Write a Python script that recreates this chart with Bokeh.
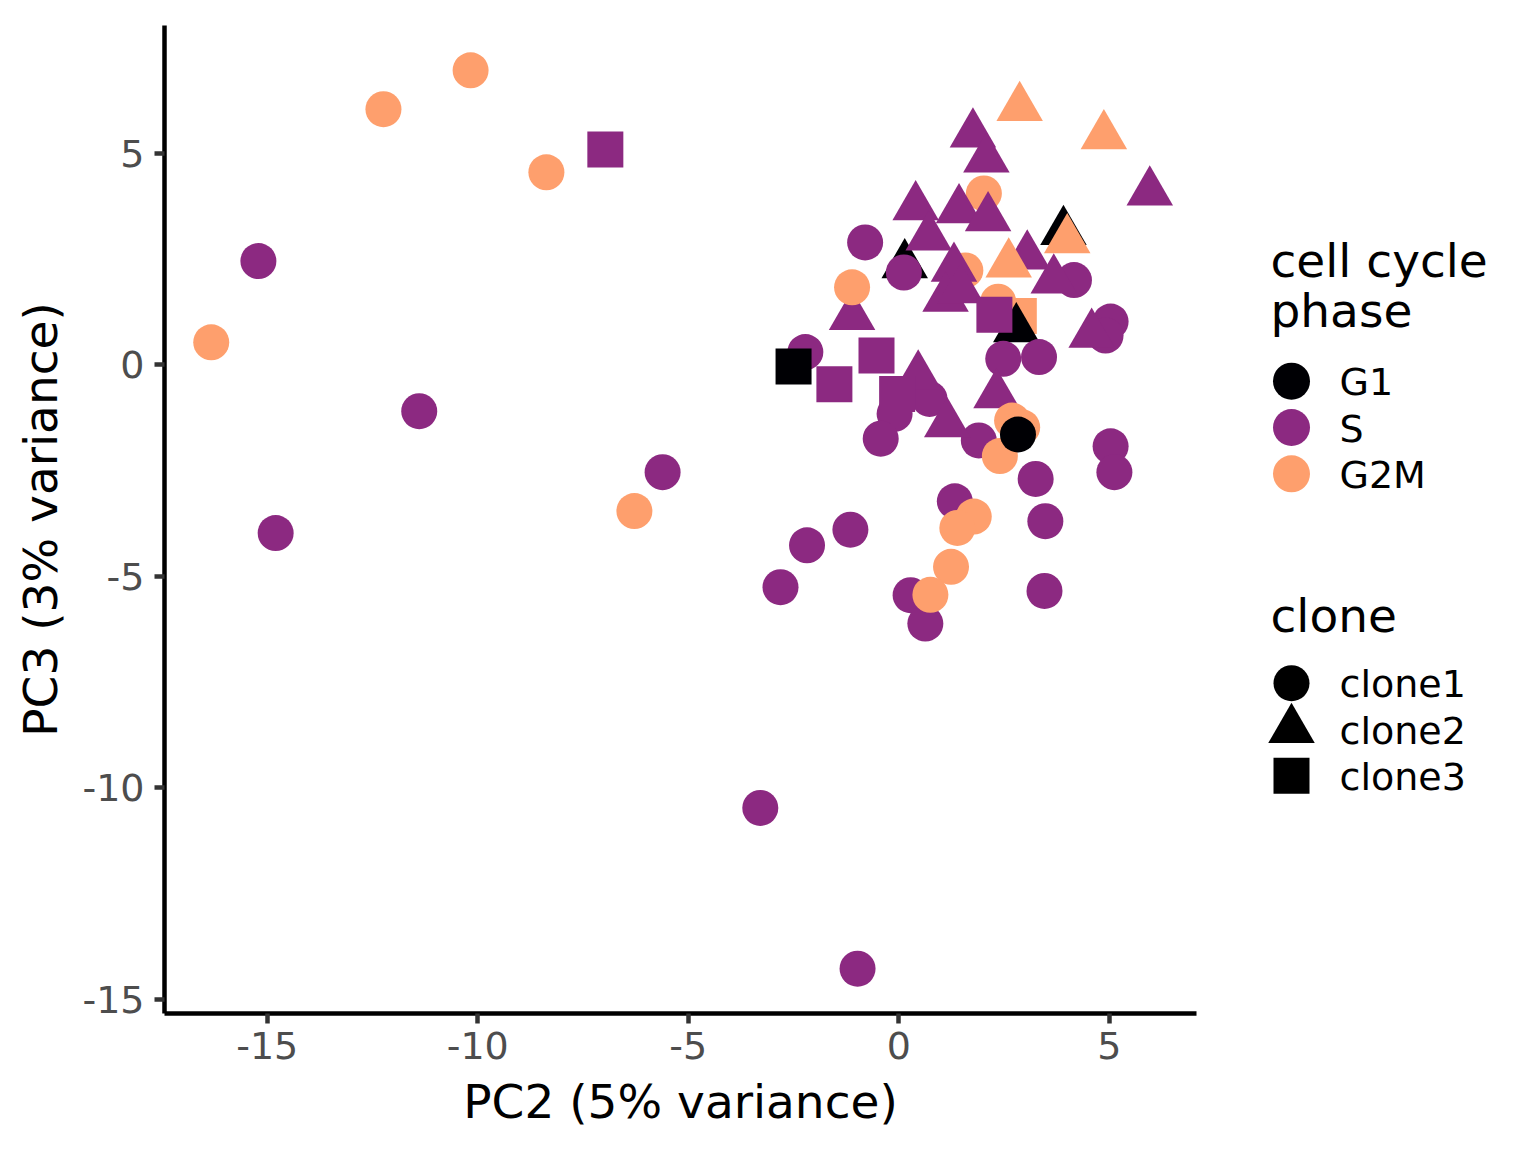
from bokeh.plotting import figure
from bokeh.layouts import row
from bokeh.models import Range1d, ColumnDataSource, FixedTicker
from bokeh.core.properties import value
from bokeh.embed import file_html
from bokeh.resources import INLINE

# ---- data (draw order) ----
pc2 = [2.85, 2.02, 2.36, 1.58,
       3.91, 0.14, 2.79,
       -15.21, -11.39, -14.80, -5.61, -3.29, -0.98, -0.80, 0.12, 4.16, 5.03, 4.91, -2.22,
       2.48, 3.33, 0.73, -0.10, -0.43, 1.90, 3.25, 5.03, 5.12, 1.33, -1.15, -2.18, 3.48,
       -2.81, 0.28, 0.63, 3.46,
       1.76, 2.08, 5.96, 0.40, 1.43, 2.12, 0.71, 3.05, 1.31, 1.11, 1.47, 3.68, 4.58, -1.11,
       0.46, 1.15, 2.32,
       -6.97, -0.53, -1.53, -0.04, 2.27,
       -10.17, -12.24, -8.37, -16.33, -6.28, -1.11, 2.69, 2.93, 2.40, 1.78, 1.39, 1.24, 0.75,
       2.87, 4.87, 4.00, 2.61,
       2.83, -2.50]
pc3 = [1.15, 4.05, 1.49, 2.23,
       3.15, 2.36, 0.85,
       2.45, -1.10, -3.98, -2.54, -10.48, -14.28, 2.89, 2.18, 2.00, 1.02, 0.69, 0.30,
       0.14, 0.18, -0.81, -1.16, -1.75, -1.79, -2.70, -1.93, -2.54, -3.23, -3.90, -4.27, -3.70,
       -5.26, -5.45, -6.12, -5.35,
       5.45, 4.86, 4.08, 3.73, 3.66, 3.47, 3.02, 2.57, 2.28, 1.57, 1.77, 2.00, 0.72, 1.14,
       -0.27, -1.40, -0.71,
       5.09, 0.22, -0.46, -0.69, 1.18,
       6.96, 6.04, 4.55, 0.53, -3.46, 1.83, -1.32, -1.48, -2.16, -3.59, -3.86, -4.78, -5.44,
       6.08, 5.41, 2.95, 2.38,
       -1.65, -0.04]
phase = (["G2M"] * 4 + ["G1"] * 3 + ["S"] * 51 + ["G2M"] * 17 + ["G1"] * 2)
clone = (["clone3", "clone1", "clone1", "clone1",
          "clone2", "clone2", "clone2"]
         + ["clone1"] * 29 + ["clone2"] * 17 + ["clone3"] * 5
         + ["clone1"] * 13 + ["clone2"] * 4
         + ["clone1", "clone3"])

phase_levels = ["G1", "S", "G2M"]
phase_colors = ["#000004", "#8C2981", "#FE9F6D"]
clone_levels = ["clone1", "clone2", "clone3"]
clone_markers = ["circle", "triangle", "square"]
clone_sizes = [36, 46.5, 36]
ticks = [-15, -10, -5, 0, 5]
tick_labels = {t: str(t) for t in ticks}

FONT = "DejaVu Sans"
W, H = 1240, 1136
BL, BR, BT, BB = 164, 44, 25, 123

src = ColumnDataSource(dict(
    x=pc2, y=pc3,
    color=[phase_colors[phase_levels.index(v)] for v in phase],
    marker=[clone_markers[clone_levels.index(v)] for v in clone],
    size=[clone_sizes[clone_levels.index(v)] for v in clone],
))

p = figure(width=W, height=H, x_range=Range1d(-17.44, 7.07),
           y_range=Range1d(-15.34, 8.02), toolbar_location=None,
           output_backend="svg", min_border_left=BL, min_border_right=BR,
           min_border_top=BT, min_border_bottom=BB)
p.scatter("x", "y", source=src, marker="marker", size="size",
          fill_color="color", line_color=None)

p.grid.visible = False
p.outline_line_color = None
for ax in (p.xaxis[0], p.yaxis[0]):
    ax.ticker = FixedTicker(ticks=ticks, minor_ticks=[])
    ax.major_label_overrides = tick_labels
    ax.axis_line_color = "black"
    ax.axis_line_width = 4.5
    ax.major_tick_line_color = "#333333"
    ax.major_tick_line_width = 4.5
    ax.major_tick_out = 10
    ax.major_tick_in = 0
    ax.minor_tick_line_color = None
    ax.major_label_text_font = FONT
    ax.major_label_text_font_size = "38px"
    ax.major_label_text_color = "#4D4D4D"
    ax.axis_label_text_font = FONT
    ax.axis_label_text_font_size = "47px"
    ax.axis_label_text_font_style = "normal"
    ax.axis_label_text_color = "black"
p.xaxis.axis_label = "PC2 (5% variance)"
p.yaxis.axis_label = "PC3 (3% variance)"
p.xaxis.major_label_standoff = 8
p.xaxis.axis_label_standoff = 12
p.yaxis.major_label_standoff = 10
p.yaxis.axis_label_standoff = 11

# ---- legend panel (coordinates are page pixels) ----
LW = 280
leg = figure(width=LW, height=H, x_range=Range1d(W, W + LW),
             y_range=Range1d(H - BB, BT),
             toolbar_location=None, output_backend="svg",
             min_border_left=0, min_border_right=0,
             min_border_top=BT, min_border_bottom=BB,
             x_axis_location=None, y_axis_location=None)
leg.grid.visible = False
leg.outline_line_color = None

title_x, key_x, text_x = 1270, 1291, 1339
step = 46.3
label_off = 1.0

leg.text(x=[title_x, title_x], y=[259.7, 309.7], text=["cell cycle", "phase"],
         text_font=value(FONT), text_font_size=value("47px"), text_color="black",
         text_baseline="alphabetic", text_align="left")
pys = [380.7 + i * step for i in range(len(phase_levels))]
leg.scatter(x=[key_x] * 3, y=pys, marker="circle", size=37, fill_color=phase_colors,
            line_color=None)
leg.text(x=[text_x] * 3, y=[v + label_off for v in pys], text=phase_levels,
         text_font=value(FONT), text_font_size=value("38px"), text_color="black",
         text_baseline="alphabetic", text_align="left")

leg.text(x=[title_x], y=[614.7], text=["clone"],
         text_font=value(FONT), text_font_size=value("47px"), text_color="black",
         text_baseline="alphabetic", text_align="left")
cys = [682.7 + i * step for i in range(len(clone_levels))]
leg.scatter(x=[key_x] * 3, y=cys, marker=clone_markers, size=clone_sizes,
            fill_color="black", line_color=None)
leg.text(x=[text_x] * 3, y=[v + label_off for v in cys], text=clone_levels,
         text_font=value(FONT), text_font_size=value("38px"), text_color="black",
         text_baseline="alphabetic", text_align="left")

layout = row(p, leg)
open("out.html", "w").write(file_html(layout, INLINE))
